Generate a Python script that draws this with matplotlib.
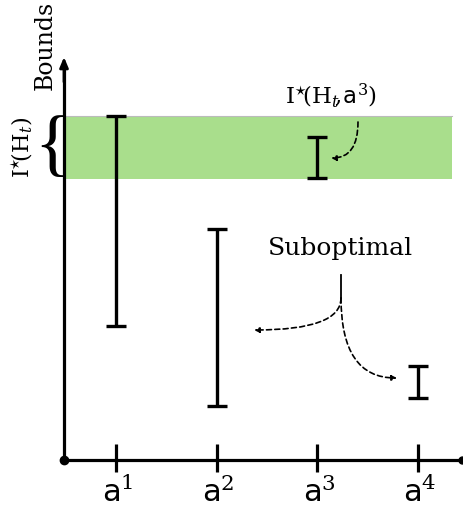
import matplotlib
matplotlib.use("Agg")
import matplotlib.pyplot as plt
from matplotlib.patches import FancyArrowPatch

plt.rcParams['mathtext.fontset'] = 'dejavuserif'
plt.rcParams['font.family'] = ['DejaVu Serif']

# ---- data ----
actions = [1, 2, 3, 4]
tick_labels = [r'$\mathsf{a}^{1}$', r'$\mathsf{a}^{2}$', r'$\mathsf{a}^{3}$', r'$\mathsf{a}^{4}$']
lower = [1.34, 0.54, 2.82, 0.62]
upper = [3.44, 2.31, 3.23, 0.94]
band_lo = 2.81
band_hi = 3.44

fig = plt.figure(figsize=(4.64, 5.08), dpi=100)
ax = fig.add_axes([0, 0, 1, 1])
# pixel mapping: x=1 -> 116px, spacing ~100.7px; y=0 -> 460px, 100px/unit
sx = 100.67
ax.set_xlim(1 - 116 / sx, 1 + 348 / sx)
ax.set_ylim(-0.48, 4.60)
ax.axis('off')

x0 = 1 - (116 - 64) / sx   # axis origin x
x_band_end = 1 + (452 - 116) / sx
x_end = 1 + (462 - 116) / sx
y_top = 4.03

# green band
ax.fill_between([x0, x_band_end], band_lo, band_hi, color='#a9de8c', lw=0, zorder=1)
ax.plot([x0, x_band_end], [band_hi, band_hi], color='#bbbbbb', lw=0.8, zorder=1.5)

# axes
ax.plot([x0, x_end], [0, 0], color='black', lw=2.3, zorder=3, solid_capstyle='butt')
ax.plot([x0, x0], [0, y_top - 0.1], color='black', lw=2.3, zorder=3, solid_capstyle='butt')
ax.annotate('', xy=(x0, y_top), xytext=(x0, y_top - 0.25),
            arrowprops=dict(arrowstyle='-|>,head_length=0.6,head_width=0.25', color='black', lw=2.0,
                            shrinkA=0, shrinkB=0), zorder=4)
ax.plot([x0], [0], 'o', color='black', ms=6, zorder=4)
ax.plot([x_end], [0], 'o', color='black', ms=5, zorder=4)

# ticks
for a, lab in zip(actions, tick_labels):
    ax.plot([a, a], [-0.12, 0.16], color='black', lw=2.3, zorder=3, solid_capstyle='butt')
    ax.text(a + 0.02, -0.425, lab, ha='center', va='baseline', fontsize=22)

# interval bars
for a, lo, hi in zip(actions, lower, upper):
    ax.plot([a, a], [lo, hi], color='black', lw=2.4, zorder=5, solid_capstyle='butt')
    for yv in (lo, hi):
        ax.plot([a - 0.1, a + 0.1], [yv, yv], color='black', lw=2.4, zorder=5, solid_capstyle='butt')

# labels
ax.text(x0 - 0.19, 4.595, 'Bounds', rotation=90, ha='center', va='top', fontsize=17)
ax.text(x0 - 0.41, (band_lo + band_hi) / 2, r'$\mathrm{I}^{\star}\!(\mathrm{H}_t)$',
        rotation=90, ha='center', va='center', fontsize=16)
ax.text(x0 - 0.12, (band_lo + band_hi) / 2 - 0.02, '{', rotation=0, ha='center', va='center',
        fontsize=54, fontfamily='Liberation Serif')

ax.text(3.14, 3.50, r'$\mathrm{I}^{\star}\!(\mathrm{H}_t\!,\!\mathsf{a}^{3})$',
        ha='center', va='bottom', fontsize=16.5)
ax.text(3.225, 2.12, 'Suboptimal', ha='center', va='center', fontsize=18)

def dashed_arrow(p0, p1, cs):
    arr = FancyArrowPatch(p0, p1, connectionstyle=cs,
                          arrowstyle='-|>,head_length=3,head_width=1.5',
                          linestyle=(0, (3, 2)), lw=1.2, color='black',
                          shrinkA=0, shrinkB=0, zorder=6)
    ax.add_patch(arr)

dashed_arrow((1 + (358 - 116) / sx, 3.38), (1 + (331 - 116) / sx, 3.02), 'angle3,angleA=90,angleB=0')
ax.plot([1 + (341 - 116) / sx] * 2, [1.85, 1.62], color='black', lw=1.3, zorder=6)
dashed_arrow((1 + (341 - 116) / sx, 1.62), (1 + (254 - 116) / sx, 1.30), 'angle3,angleA=90,angleB=0')
dashed_arrow((1 + (341 - 116) / sx, 1.62), (1 + (397 - 116) / sx, 0.82), 'angle3,angleA=90,angleB=0')

fig.savefig('out.png', dpi=100)
